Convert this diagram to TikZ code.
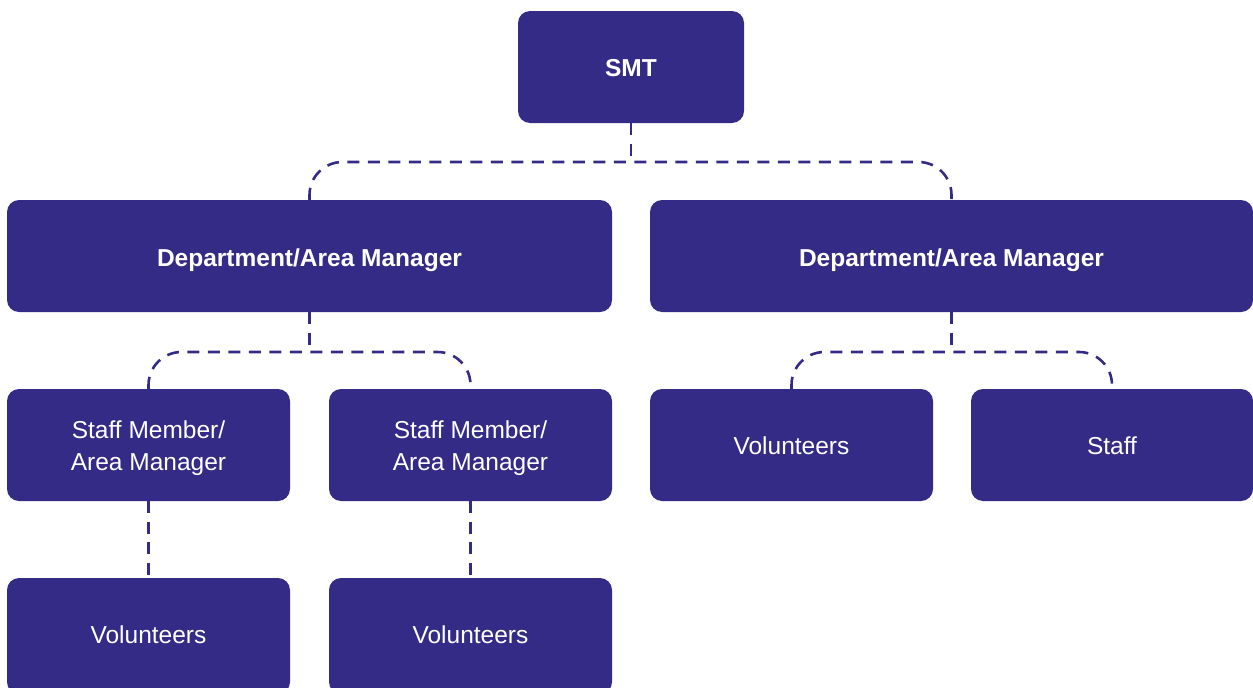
\documentclass[tikz,border=0pt]{standalone}
\usepackage{fontspec}
\setmainfont{Liberation Sans}
\definecolor{navy}{HTML}{342B86}
\newcommand{\shifttext}[2]{\raisebox{#1}[\height][\depth]{#2}}
\tikzset{
  box/.style={fill=navy, rounded corners=12pt, text=white, align=center, inner sep=0pt, font=\fontsize{24.5}{32}\selectfont},
  bbox/.style={box, font=\fontsize{24.5}{32}\selectfont\bfseries},
  conn/.style={draw=navy, line width=2.6pt, dash pattern=on 12pt off 8.5pt, rounded corners=33pt},
}
\begin{document}
\begin{tikzpicture}[x=1pt,y=-1pt]
\useasboundingbox (0,0) rectangle (1253,688);
\newcommand{\boxat}[6]{\node[#1, minimum width=#4pt, minimum height=#5pt] (#2) at (#3) {#6};}
% boxes: style, name, centre, width, height, text
\boxat{bbox}{smt}{631,67}{226}{112}{\shifttext{-1.5pt}{SMT}}
\boxat{bbox}{d1}{309.5,256}{605}{112}{\shifttext{-4pt}{Department/Area Manager}}
\boxat{bbox}{d2}{951.5,256}{603}{112}{\shifttext{-4pt}{Department/Area Manager}}
\boxat{box}{s1}{148.5,445}{283}{112}{\shifttext{-3.5pt}{Staff Member/}\\\shifttext{-3.5pt}{Area Manager}}
\boxat{box}{s2}{470.5,445}{283}{112}{\shifttext{-3.5pt}{Staff Member/}\\\shifttext{-3.5pt}{Area Manager}}
\boxat{box}{v3}{791.5,445}{283}{112}{\shifttext{-1pt}{Volunteers}}
\boxat{box}{st}{1112,445}{282}{112}{\shifttext{-1pt}{Staff}}
\boxat{box}{v1}{148.5,636}{283}{116}{\shifttext{1.5pt}{Volunteers}}
\boxat{box}{v2}{470.5,636}{283}{116}{\shifttext{1.5pt}{Volunteers}}
% junctions
\coordinate (j0) at (631,162);
\coordinate (j1) at (309.5,352);
\coordinate (j2) at (951.5,352);
% connectors
\draw[conn] (smt.south) -- (j0);
\draw[conn] (d1.north) |- (j0) -| (d2.north);
\draw[conn] (d1.south) -- (j1);
\draw[conn] (s1.north) |- (j1) -| (s2.north);
\draw[conn] (d2.south) -- (j2);
\draw[conn] (v3.north) |- (j2) -| (st.north);
\draw[conn] (s1.south) -- (v1.north);
\draw[conn] (s2.south) -- (v2.north);
\end{tikzpicture}
\end{document}
